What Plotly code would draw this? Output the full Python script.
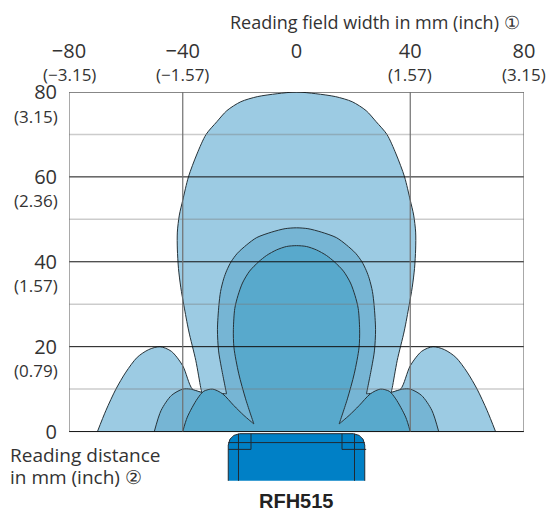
import plotly.graph_objects as go

x_ticks = [-80, -40, 0, 40, 80]
x_labels = ["\u221280", "\u221240", "0", "40", "80"]
x_inch = ["(\u22123.15)", "(\u22121.57)", "", "(1.57)", "(3.15)"]
y_ticks = [0, 20, 40, 60, 80]
y_labels = ["0", "20", "40", "60", "80"]
y_inch = ["", "(0.79)", "(1.57)", "(2.36)", "(3.15)"]
minor_y = [10, 30, 50, 70]

outer_x = [-70, -67, -63.5, -60, -56, -52, -48, -44, -40, -36.6, -33.3, -33.3, -33.7, -35.4, -37.9, -39.6, -40.7, -41.5, -41.9, -41.9, -41.2, -40, -38, -35, -31.8, -28, -24.5, -19.6, -13.8, -6.8, 0,
           6.8, 13.8, 19.6, 24.5, 28, 31.8, 35, 38, 40, 41.2, 41.9, 41.9, 41.5, 40.7, 39.6, 37.9, 35.4, 33.7, 33.3, 33.3, 36.6, 40, 44, 48, 52, 56, 60, 63.5, 67, 70]
outer_y = [0, 5, 10, 14, 17.5, 19.3, 20, 18.9, 15.5, 10, 9.2, 9.2, 10.4, 16.7, 23.7, 29.7, 34, 38.4, 43, 47, 51, 54.5, 60, 65.4, 70, 73, 75.6, 77.7, 78.9, 79.6, 80,
           79.6, 78.9, 77.7, 75.6, 73, 70, 65.4, 60, 54.5, 51, 47, 43, 38.4, 34, 29.7, 23.7, 16.7, 10.4, 9.2, 9.2, 10, 15.5, 18.9, 20, 19.3, 17.5, 14, 10, 5, 0]

mid_x = [-50, -47.6, -44, -40, -37.3, -33.3, -33.3, -24.6, -24.6, -26.4, -27.4, -27.8, -27.3, -26.7, -25.6, -24.5, -23, -20.8, -17.5, -14, -8.7, -4, 0,
         4, 8.7, 14, 17.5, 20.8, 23, 24.5, 25.6, 26.7, 27.3, 27.8, 27.4, 26.4, 24.6, 24.6, 33.3, 33.3, 37.3, 40, 44, 47.6, 50]
mid_y = [0, 5, 8.5, 10, 10, 9.2, 9.2, 8.9, 8.9, 15, 19, 24, 29.7, 33, 36, 38, 40, 42, 44, 45.7, 47, 47.8, 48,
         47.8, 47, 45.7, 44, 42, 40, 38, 36, 33, 29.7, 24, 19, 15, 8.9, 8.9, 9.2, 9.2, 10, 10, 8.5, 5, 0]

inner_x = [-40, -38.4, -34.9, -32.6, -29.5, -26, -22, -18.5, -15, -15, -17.9, -20.3, -22, -22.2, -21.7, -20.6, -19, -16.5, -13.3, -10.5, -7, -3.5, 0,
           3.5, 7, 10.5, 13.3, 16.5, 19, 20.6, 21.7, 22.2, 22, 20.3, 17.9, 15, 15, 18.5, 22, 26, 29.5, 32.6, 34.9, 38.4, 40]
inner_y = [0, 3.4, 7.7, 9.5, 10, 8.9, 6.1, 3.8, 1.8, 1.8, 7.7, 13.6, 19.8, 24, 29, 32, 35, 37.8, 40, 41.5, 42.8, 43.6, 43.8,
           43.6, 42.8, 41.5, 40, 37.8, 35, 32, 29, 24, 19.8, 13.6, 7.7, 1.8, 1.8, 3.8, 6.1, 8.9, 10, 9.5, 7.7, 3.4, 0]

device_x = [-24, -24, -23.4, -22, -20, 20, 22, 23.4, 24, 24]
device_y = [-11.6, -3.2, -1.8, -0.9, -0.5, -0.5, -0.9, -1.8, -3.2, -11.6]

FONT = "Open Sans"
TXT = "#333333"
LINE = "#263238"
fig = go.Figure()

for xs, ys, col in [(outer_x, outer_y, "#9CCBE3"), (mid_x, mid_y, "#76B5D4"), (inner_x, inner_y, "#58A9CC")]:
    fig.add_trace(go.Scatter(x=xs, y=ys, mode="lines", fill="toself", fillcolor=col,
                             line=dict(color=LINE, width=1, shape="spline", smoothing=0.8),
                             hoverinfo="skip", showlegend=False))

fig.add_trace(go.Scatter(x=device_x, y=device_y, mode="lines", fill="toself", fillcolor="#0080C6",
                         line=dict(color="rgba(0,0,0,0)", width=0), hoverinfo="skip", showlegend=False))
# device outline and inner lines
for xs, ys in [(device_x, device_y), ([-24, 24], [-2.6, -2.6]), ([-20.4, -20.4], [-0.5, -11.6]), ([20.4, 20.4], [-0.5, -11.6]),
               ([-24, -16, -16], [-4.2, -4.2, -0.5]), ([24.5, 16, 16], [-4.2, -4.2, -0.5])]:
    fig.add_trace(go.Scatter(x=xs, y=ys, mode="lines", line=dict(color="#1f2a33", width=1),
                             hoverinfo="skip", showlegend=False))

for v in minor_y:
    fig.add_trace(go.Scatter(x=[-80, 80], y=[v, v], mode="lines", line=dict(color="rgba(120,120,120,0.38)", width=1.5),
                             hoverinfo="skip", showlegend=False))
for v in y_ticks:
    fig.add_trace(go.Scatter(x=[-80, 80], y=[v, v], mode="lines", line=dict(color="#111111", width=1),
                             hoverinfo="skip", showlegend=False))
for v in x_ticks:
    if v != 0:
        fig.add_trace(go.Scatter(x=[v, v], y=[0, 80], mode="lines", line=dict(color="#6f6f6f", width=1.2),
                                 hoverinfo="skip", showlegend=False))

ann = []
for v, t in zip(x_ticks, x_inch):
    if t:
        ann.append(dict(x=v, y=1, xref="x", yref="paper", yshift=18, text=t, showarrow=False,
                        xanchor="center", yanchor="middle", font=dict(family=FONT, size=17, color=TXT)))
for v, t in zip(y_ticks, y_inch):
    if t:
        ann.append(dict(x=0, xref="paper", y=v, yref="y", xshift=-9, yshift=-24, text=t, showarrow=False,
                        xanchor="right", yanchor="middle", font=dict(family=FONT, size=17, color=TXT)))
PW, PH = 456, 391.5
def px(x): return (x - 68.5) / PW
def py(y): return (482.5 - y) / PH
ann.append(dict(x=px(522), y=py(21), xref="paper", yref="paper", text="Reading field width in mm (inch) \u2460", showarrow=False,
                xanchor="right", yanchor="middle", font=dict(family=FONT, size=18, color=TXT)))
ann.append(dict(x=px(7), y=py(454), xref="paper", yref="paper", text="Reading distance", showarrow=False,
                xanchor="left", yanchor="middle", align="left", font=dict(family=FONT, size=19, color=TXT)))
ann.append(dict(x=px(7), y=py(476), xref="paper", yref="paper", text="in mm (inch) \u2461", showarrow=False,
                xanchor="left", yanchor="middle", align="left", font=dict(family=FONT, size=19, color=TXT)))
ann.append(dict(x=px(296), y=py(501), xref="paper", yref="paper", text="<b>RFH515</b>", showarrow=False,
                xanchor="center", yanchor="middle", font=dict(family="Liberation Sans", size=20, color="#222222")))

fig.update_layout(
    width=552, height=514, autosize=False,
    margin=dict(l=68.5, r=27.5, t=91.5, b=31, pad=0),
    paper_bgcolor="white", plot_bgcolor="white",
    annotations=ann,
    xaxis=dict(range=[-80, 80], side="top", tickmode="array", tickvals=x_ticks, ticktext=x_labels,
               showgrid=False, zeroline=False, showline=False, ticks="", ticklabelstandoff=29,
               tickfont=dict(family=FONT, size=20, color=TXT)),
    yaxis=dict(range=[-12.12, 80], tickmode="array", tickvals=y_ticks, ticktext=y_labels,
               showgrid=False, zeroline=False, showline=False, ticks="", ticklabelstandoff=11,
               tickfont=dict(family=FONT, size=20, color=TXT)),
)
fig.write_html("out.html", post_script="document.body.style.margin='0';", config={"displayModeBar": False})
